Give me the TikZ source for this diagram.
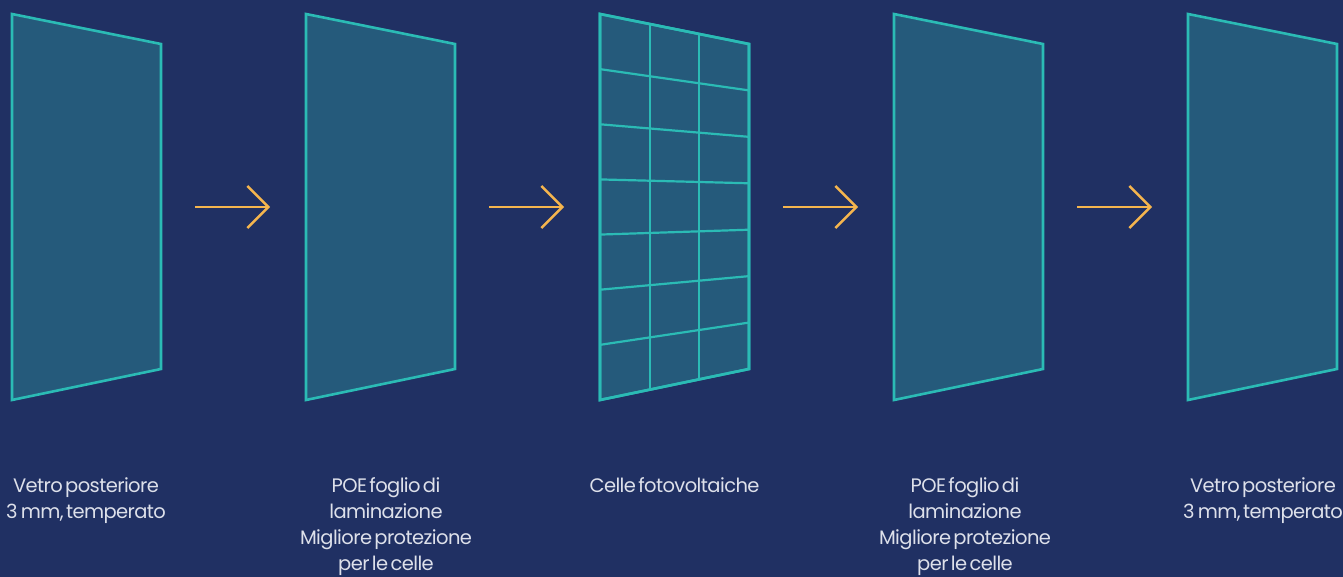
\documentclass[tikz,border=0pt]{standalone}
\usepackage{fontspec}
\setmainfont{Poppins}[LetterSpace=-3,WordSpace=0.5]
\usetikzlibrary{arrows.meta,calc}

\definecolor{navy}{HTML}{203063}
\definecolor{glass}{HTML}{255A7B}
\definecolor{edge}{HTML}{2BBBB5}
\definecolor{flowcol}{HTML}{F5B54E}
\definecolor{caption}{HTML}{DDE0EA}

\tikzset{
  layer/.style={draw=edge, fill=glass, line width=2.6pt, line join=miter},
  cellline/.style={draw=edge, line width=2.2pt},
  flow/.style={draw=flowcol, line width=2.4pt, -{Straight Barb[length=21pt,width=42pt,line width=2.4pt]}},
  caption/.style={text=caption, align=center, anchor=north, inner sep=0pt,
    font=\fontsize{19.5}{26}\selectfont}
}

\begin{document}
\begin{tikzpicture}[x=1pt,y=-1pt]

\fill [navy] (0,0) rectangle (1343,577);
\useasboundingbox (0,0) rectangle (1343,577);

% panel corners
\coordinate (A1) at (12,14);
\coordinate (B1) at (161,44);
\coordinate (C1) at (161,369);
\coordinate (D1) at (12,400);
\coordinate (A2) at (306,14);
\coordinate (B2) at (455,44);
\coordinate (C2) at (455,369);
\coordinate (D2) at (306,400);
\coordinate (A3) at (600,14);
\coordinate (B3) at (749,44);
\coordinate (C3) at (749,369);
\coordinate (D3) at (600,400);
\coordinate (A4) at (894,14);
\coordinate (B4) at (1043,44);
\coordinate (C4) at (1043,369);
\coordinate (D4) at (894,400);
\coordinate (A5) at (1188,14);
\coordinate (B5) at (1337,44);
\coordinate (C5) at (1337,369);
\coordinate (D5) at (1188,400);

\draw [layer] (A1)--(B1)--(C1)--(D1)--cycle;
\draw [layer] (A2)--(B2)--(C2)--(D2)--cycle;
\draw [layer] (A3)--(B3)--(C3)--(D3)--cycle;
\draw [layer] (A4)--(B4)--(C4)--(D4)--cycle;
\draw [layer] (A5)--(B5)--(C5)--(D5)--cycle;

% cell grid
\foreach \i in {1,2}
  \draw [cellline] ($(A3)!\i/3!(B3)$) -- ($(D3)!\i/3!(C3)$);
\foreach \j in {1,...,6}
  \draw [cellline] ($(A3)!\j/7!(D3)$) -- ($(B3)!\j/7!(C3)$);
\draw [layer, fill=none] (A3)--(B3)--(C3)--(D3)--cycle;

% arrows
\coordinate (S1) at (195,207);
\coordinate (E1) at (270,207);
\coordinate (S2) at (489,207);
\coordinate (E2) at (564,207);
\coordinate (S3) at (783,207);
\coordinate (E3) at (858,207);
\coordinate (S4) at (1077,207);
\coordinate (E4) at (1152,207);
\draw [flow] (S1) -- (E1);
\draw [flow] (S2) -- (E2);
\draw [flow] (S3) -- (E3);
\draw [flow] (S4) -- (E4);

% captions
\node [caption] (T1) at (86,477) {Vetro posteriore\\3\,mm, temperato};
\node [caption] (T2) at (386,477) {POE foglio di\\laminazione\\Migliore protezione\\per le celle};
\node [caption] (T3) at (674.5,477) {Celle fotovoltaiche};
\node [caption] (T4) at (965,477) {POE foglio di\\laminazione\\Migliore protezione\\per le celle};
\node [caption] (T5) at (1263,477) {Vetro posteriore\\3\,mm, temperato};
\end{tikzpicture}
\end{document}
